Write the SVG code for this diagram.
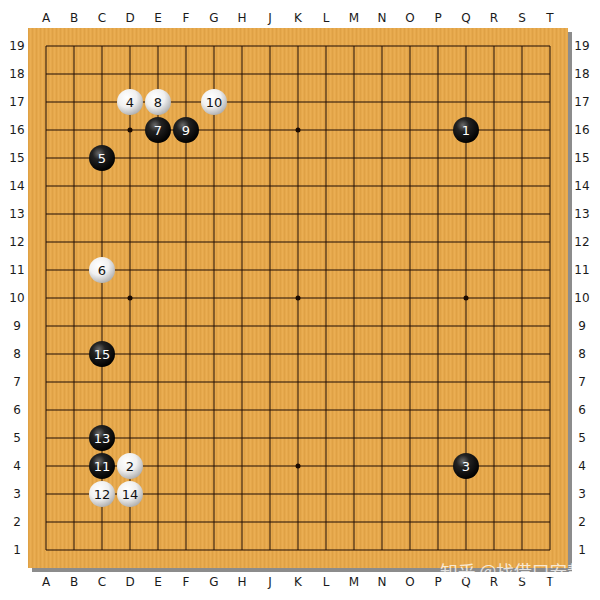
<svg xmlns="http://www.w3.org/2000/svg" width="600" height="600" viewBox="0 0 600 600">
<defs>
<pattern id="wood" width="4" height="10" patternUnits="userSpaceOnUse">
<rect width="4" height="10" fill="#E6A84C"/>
<rect x="0" width="1" height="10" fill="#DC9E42" opacity="0.7"/>
<rect x="2" width="1" height="10" fill="#EDB258" opacity="0.6"/>
</pattern>
<radialGradient id="gb" cx="0.38" cy="0.32" r="0.7">
<stop offset="0" stop-color="#6a6a6a"/>
<stop offset="0.35" stop-color="#222"/>
<stop offset="1" stop-color="#000"/>
</radialGradient>
<radialGradient id="gw" cx="0.38" cy="0.32" r="0.75">
<stop offset="0" stop-color="#ffffff"/>
<stop offset="0.5" stop-color="#f0f0f0"/>
<stop offset="1" stop-color="#a8a8a8"/>
</radialGradient>
<style>
.coord{font-family:"DejaVu Sans",Verdana,sans-serif;font-size:12px;fill:#1a1a1a;text-anchor:middle;dominant-baseline:central}
.grid line{stroke:#1e0c04;stroke-width:1}
.star{fill:#1a0a00}
.b circle{fill:url(#gb)}
.w circle{fill:url(#gw)}
.b text,.w text{font-family:"DejaVu Sans",Verdana,sans-serif;font-size:13px;text-anchor:middle;dominant-baseline:central}
.b text{fill:#fff}
.w text{fill:#111}
.wm{font-family:"Noto Sans CJK SC","DejaVu Sans",sans-serif;font-size:16px;fill:#fff;opacity:0.75}
</style>
</defs>
<rect width="600" height="600" fill="#fff"/>
<rect x="32" y="32" width="540" height="540" fill="#8c8c8c"/>
<rect x="28" y="28" width="540" height="540" fill="url(#wood)"/>
<g class="grid">
<line x1="46" y1="46" x2="550" y2="46"/><line x1="46" y1="74" x2="550" y2="74"/><line x1="46" y1="102" x2="550" y2="102"/><line x1="46" y1="130" x2="550" y2="130"/><line x1="46" y1="158" x2="550" y2="158"/><line x1="46" y1="186" x2="550" y2="186"/><line x1="46" y1="214" x2="550" y2="214"/><line x1="46" y1="242" x2="550" y2="242"/><line x1="46" y1="270" x2="550" y2="270"/><line x1="46" y1="298" x2="550" y2="298"/><line x1="46" y1="326" x2="550" y2="326"/><line x1="46" y1="354" x2="550" y2="354"/><line x1="46" y1="382" x2="550" y2="382"/><line x1="46" y1="410" x2="550" y2="410"/><line x1="46" y1="438" x2="550" y2="438"/><line x1="46" y1="466" x2="550" y2="466"/><line x1="46" y1="494" x2="550" y2="494"/><line x1="46" y1="522" x2="550" y2="522"/><line x1="46" y1="550" x2="550" y2="550"/>
<line x1="46" y1="46" x2="46" y2="550"/><line x1="74" y1="46" x2="74" y2="550"/><line x1="102" y1="46" x2="102" y2="550"/><line x1="130" y1="46" x2="130" y2="550"/><line x1="158" y1="46" x2="158" y2="550"/><line x1="186" y1="46" x2="186" y2="550"/><line x1="214" y1="46" x2="214" y2="550"/><line x1="242" y1="46" x2="242" y2="550"/><line x1="270" y1="46" x2="270" y2="550"/><line x1="298" y1="46" x2="298" y2="550"/><line x1="326" y1="46" x2="326" y2="550"/><line x1="354" y1="46" x2="354" y2="550"/><line x1="382" y1="46" x2="382" y2="550"/><line x1="410" y1="46" x2="410" y2="550"/><line x1="438" y1="46" x2="438" y2="550"/><line x1="466" y1="46" x2="466" y2="550"/><line x1="494" y1="46" x2="494" y2="550"/><line x1="522" y1="46" x2="522" y2="550"/><line x1="550" y1="46" x2="550" y2="550"/>
</g>
<g class="stars">
<circle class="star" cx="130" cy="130" r="2.5"/><circle class="star" cx="298" cy="130" r="2.5"/><circle class="star" cx="466" cy="130" r="2.5"/>
<circle class="star" cx="130" cy="298" r="2.5"/><circle class="star" cx="298" cy="298" r="2.5"/><circle class="star" cx="466" cy="298" r="2.5"/>
<circle class="star" cx="130" cy="466" r="2.5"/><circle class="star" cx="298" cy="466" r="2.5"/><circle class="star" cx="466" cy="466" r="2.5"/>
</g>
<g class="coords">
<text class="coord" x="46" y="18">A</text><text class="coord" x="74" y="18">B</text><text class="coord" x="102" y="18">C</text><text class="coord" x="130" y="18">D</text><text class="coord" x="158" y="18">E</text><text class="coord" x="186" y="18">F</text><text class="coord" x="214" y="18">G</text><text class="coord" x="242" y="18">H</text><text class="coord" x="270" y="18">J</text><text class="coord" x="298" y="18">K</text><text class="coord" x="326" y="18">L</text><text class="coord" x="354" y="18">M</text><text class="coord" x="382" y="18">N</text><text class="coord" x="410" y="18">O</text><text class="coord" x="438" y="18">P</text><text class="coord" x="466" y="18">Q</text><text class="coord" x="494" y="18">R</text><text class="coord" x="522" y="18">S</text><text class="coord" x="550" y="18">T</text>
<text class="coord" x="46" y="582">A</text><text class="coord" x="74" y="582">B</text><text class="coord" x="102" y="582">C</text><text class="coord" x="130" y="582">D</text><text class="coord" x="158" y="582">E</text><text class="coord" x="186" y="582">F</text><text class="coord" x="214" y="582">G</text><text class="coord" x="242" y="582">H</text><text class="coord" x="270" y="582">J</text><text class="coord" x="298" y="582">K</text><text class="coord" x="326" y="582">L</text><text class="coord" x="354" y="582">M</text><text class="coord" x="382" y="582">N</text><text class="coord" x="410" y="582">O</text><text class="coord" x="438" y="582">P</text><text class="coord" x="466" y="582">Q</text><text class="coord" x="494" y="582">R</text><text class="coord" x="522" y="582">S</text><text class="coord" x="550" y="582">T</text>
<text class="coord" x="17" y="46">19</text><text class="coord" x="17" y="74">18</text><text class="coord" x="17" y="102">17</text><text class="coord" x="17" y="130">16</text><text class="coord" x="17" y="158">15</text><text class="coord" x="17" y="186">14</text><text class="coord" x="17" y="214">13</text><text class="coord" x="17" y="242">12</text><text class="coord" x="17" y="270">11</text><text class="coord" x="17" y="298">10</text><text class="coord" x="17" y="326">9</text><text class="coord" x="17" y="354">8</text><text class="coord" x="17" y="382">7</text><text class="coord" x="17" y="410">6</text><text class="coord" x="17" y="438">5</text><text class="coord" x="17" y="466">4</text><text class="coord" x="17" y="494">3</text><text class="coord" x="17" y="522">2</text><text class="coord" x="17" y="550">1</text>
<text class="coord" x="582" y="46">19</text><text class="coord" x="582" y="74">18</text><text class="coord" x="582" y="102">17</text><text class="coord" x="582" y="130">16</text><text class="coord" x="582" y="158">15</text><text class="coord" x="582" y="186">14</text><text class="coord" x="582" y="214">13</text><text class="coord" x="582" y="242">12</text><text class="coord" x="582" y="270">11</text><text class="coord" x="582" y="298">10</text><text class="coord" x="582" y="326">9</text><text class="coord" x="582" y="354">8</text><text class="coord" x="582" y="382">7</text><text class="coord" x="582" y="410">6</text><text class="coord" x="582" y="438">5</text><text class="coord" x="582" y="466">4</text><text class="coord" x="582" y="494">3</text><text class="coord" x="582" y="522">2</text><text class="coord" x="582" y="550">1</text>
</g>
<g id="s1" class="b"><circle cx="466" cy="130" r="13"/><text x="466" y="130">1</text></g>
<g id="s2" class="w"><circle cx="130" cy="466" r="13"/><text x="130" y="466">2</text></g>
<g id="s3" class="b"><circle cx="466" cy="466" r="13"/><text x="466" y="466">3</text></g>
<g id="s4" class="w"><circle cx="130" cy="102" r="13"/><text x="130" y="102">4</text></g>
<g id="s5" class="b"><circle cx="102" cy="158" r="13"/><text x="102" y="158">5</text></g>
<g id="s6" class="w"><circle cx="102" cy="270" r="13"/><text x="102" y="270">6</text></g>
<g id="s7" class="b"><circle cx="158" cy="130" r="13"/><text x="158" y="130">7</text></g>
<g id="s8" class="w"><circle cx="158" cy="102" r="13"/><text x="158" y="102">8</text></g>
<g id="s9" class="b"><circle cx="186" cy="130" r="13"/><text x="186" y="130">9</text></g>
<g id="s10" class="w"><circle cx="214" cy="102" r="13"/><text x="214" y="102">10</text></g>
<g id="s11" class="b"><circle cx="102" cy="466" r="13"/><text x="102" y="466">11</text></g>
<g id="s12" class="w"><circle cx="102" cy="494" r="13"/><text x="102" y="494">12</text></g>
<g id="s13" class="b"><circle cx="102" cy="438" r="13"/><text x="102" y="438">13</text></g>
<g id="s14" class="w"><circle cx="130" cy="494" r="13"/><text x="130" y="494">14</text></g>
<g id="s15" class="b"><circle cx="102" cy="354" r="13"/><text x="102" y="354">15</text></g>
<text class="wm" x="440" y="577" textLength="145" lengthAdjust="spacingAndGlyphs">知乎 @找借口安静</text>
</svg>
